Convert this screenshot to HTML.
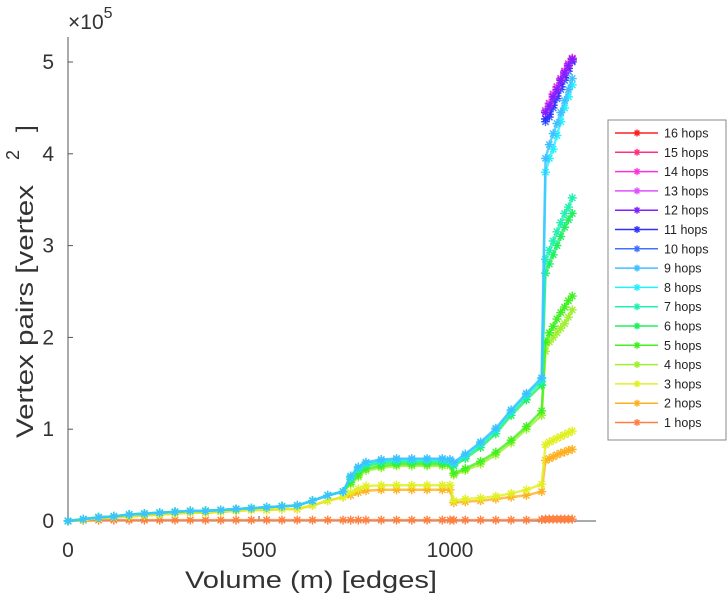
<!DOCTYPE html>
<html><head><meta charset="utf-8"><style>
body{margin:0;background:#fff;}
svg{font-family:"Liberation Sans",sans-serif;display:block;}
</style></head><body>
<svg id="chart" width="728" height="600" viewBox="0 0 728 600" xmlns="http://www.w3.org/2000/svg">
<g id="axes"></g>
<g id="series"></g>
<g id="legend"></g>
</svg>
<script>
const xs=[0,40,80,120,160,200,240,280,320,360,400,440,480,520,560,600,640,680,720,740,760,780,820,860,900,940,980,1000,1010,1040,1080,1120,1160,1200,1240,1250,1260,1270,1280,1290,1300,1310,1320];
const earlyHigh=[0,0.02,0.04,0.05,0.07,0.08,0.09,0.1,0.11,0.11,0.12,0.13,0.14,0.15,0.16,0.17,0.22,0.28,0.32];
const earlyLow=[0,0.01,0.03,0.04,0.05,0.06,0.07,0.08,0.09,0.09,0.1,0.11,0.12,0.12,0.13,0.13,0.17,0.22,0.26];
const pre=Array(35).fill(null);
const s1=[0,0.005,0.01,0.01,0.01,0.01,0.01,0.01,0.01,0.01,0.01,0.01,0.01,0.01,0.01,0.01,0.01,0.01,0.01,0.01,0.01,0.01,0.01,0.01,0.01,0.01,0.01,0.01,0.01,0.01,0.01,0.01,0.01,0.01,0.015,0.02,0.02,0.02,0.02,0.02,0.02,0.02,0.02];
const s2=earlyLow.concat([0.28,0.31,0.33,0.34,0.34,0.34,0.34,0.34,0.34,0.2,0.21,0.22,0.24,0.26,0.28,0.32,0.66,0.68,0.7,0.72,0.74,0.75,0.77,0.78]);
const s3=earlyLow.concat([0.31,0.35,0.38,0.39,0.39,0.39,0.39,0.39,0.39,0.22,0.24,0.25,0.27,0.3,0.34,0.4,0.83,0.86,0.88,0.9,0.92,0.94,0.96,0.98]);
const s4=earlyHigh.concat([0.4,0.48,0.55,0.58,0.6,0.6,0.6,0.6,0.6,0.5,0.55,0.62,0.72,0.85,1.0,1.15,1.85,1.95,2.0,2.05,2.1,2.15,2.22,2.3]);
const s5=earlyHigh.concat([0.42,0.5,0.57,0.6,0.62,0.62,0.62,0.62,0.62,0.52,0.57,0.65,0.75,0.88,1.03,1.2,1.95,2.05,2.12,2.2,2.27,2.33,2.4,2.45]);
const s6=earlyHigh.concat([0.45,0.55,0.6,0.63,0.64,0.64,0.64,0.64,0.63,0.6,0.68,0.8,0.95,1.15,1.32,1.48,2.7,2.8,2.9,3.0,3.1,3.2,3.28,3.35]);
const s7=earlyHigh.concat([0.47,0.57,0.62,0.65,0.66,0.66,0.66,0.66,0.65,0.62,0.7,0.83,0.98,1.18,1.36,1.52,2.85,2.95,3.05,3.15,3.25,3.35,3.42,3.52]);
const s8=earlyHigh.concat([0.48,0.58,0.63,0.66,0.67,0.67,0.67,0.67,0.66,0.63,0.72,0.85,1.0,1.2,1.38,1.55,3.8,3.95,4.05,4.2,4.35,4.5,4.62,4.75]);
const s9=earlyHigh.concat([0.49,0.59,0.64,0.67,0.68,0.68,0.68,0.68,0.67,0.64,0.73,0.86,1.01,1.21,1.39,1.56,3.95,4.1,4.22,4.33,4.45,4.58,4.7,4.82]);
const s10=pre.concat([4.35,4.4,4.5,4.6,4.7,4.8,4.9,5.0]);
const s11=pre.concat([4.38,4.43,4.53,4.63,4.73,4.83,4.93,5.01]);
const s12=pre.concat([4.45,4.52,4.62,4.7,4.8,4.88,4.96,5.03]);
const s13=pre.concat([4.47,4.54,4.64,4.72,4.81,4.89,4.97,5.03]);
const s14=pre.concat([4.47,4.55,4.65,4.73,4.82,4.9,4.98,5.04]);
const s15=pre.concat([4.47,4.55,4.65,4.73,4.82,4.9,4.98,5.04]);
const s16=pre.concat([4.47,4.55,4.65,4.73,4.82,4.9,4.98,5.04]);
const seriesVals=[s1,s2,s3,s4,s5,s6,s7,s8,s9,s10,s11,s12,s13,s14,s15,s16];
const seriesNames=["1 hops","2 hops","3 hops","4 hops","5 hops","6 hops","7 hops","8 hops","9 hops","10 hops","11 hops","12 hops","13 hops","14 hops","15 hops","16 hops"];
const colors=["#ff8040","#ffb020","#e0f020","#a0f030","#40f020","#20f060","#20f0b0","#20f0ff","#40c0ff","#4070ff","#3030ff","#8020ff","#e050ff","#ff30e0","#ff3080","#ff2020"];
const drawOrder=[0,1,2,3,4,5,6,7,8,9,10,15,14,13,12,11];
const xTicks=[0,500,1000];
const yTicks=[0,1,2,3,4,5];

const NS="http://www.w3.org/2000/svg";
const X0=68,X1=596,Y0=521,Y1=37;
const xMax=(X1-X0)/0.382,yMax=(Y0-Y1)/91.8;
function sx(v){return X0+v/xMax*(X1-X0);}
function sy(v){return Y0-v/yMax*(Y0-Y1);}
function mk(tag,attrs,parent){const e=document.createElementNS(NS,tag);for(const k in attrs)e.setAttribute(k,attrs[k]);parent.appendChild(e);return e;}

const axes=document.getElementById('axes');
let l=mk('line',{x1:X0,y1:Y1,x2:X0,y2:Y0,stroke:'#555','stroke-width':1},axes);


l=mk('line',{x1:X0,y1:Y0,x2:X1,y2:Y0,stroke:'#555','stroke-width':1},axes);


xTicks.forEach(t=>{
  const tk=mk('line',{x1:sx(t),y1:Y0,x2:sx(t),y2:Y0-5,stroke:'#555'},axes);
  
  
  const tx=mk('text',{x:sx(t),y:Y0+36,'font-size':21,'text-anchor':'middle',fill:'#333'},axes);
  tx.textContent=t;
  
  
});
yTicks.forEach(t=>{
  const tk=mk('line',{x1:X0,y1:sy(t),x2:X0+5,y2:sy(t),stroke:'#555'},axes);
  
  
  const tx=mk('text',{x:X0-14,y:sy(t)+7,'font-size':21,'text-anchor':'end',fill:'#333'},axes);
  tx.textContent=t;
  
  
});
let t=mk('text',{x:68,y:29,'font-size':21,fill:'#333'},axes);
t.innerHTML='×10<tspan font-size="16" dy="-11">5</tspan>';


t=mk('text',{x:185,y:588,'font-size':24,fill:'#333',textLength:252,lengthAdjust:'spacingAndGlyphs'},axes);
t.textContent='Volume (m) [edges]';


const yt=mk('g',{transform:'translate(33,438) rotate(-90)','font-size':24,fill:'#333'},axes);


t=mk('text',{x:0,y:0,textLength:253,lengthAdjust:'spacingAndGlyphs'},yt);
t.textContent='Vertex pairs [vertex';
t=mk('text',{x:278,y:-14,'font-size':18},yt);
t.textContent='2';
t=mk('text',{x:306,y:0},yt);
t.textContent=']';

const sg=document.getElementById('series');
function star(g,x,y,c,r){
  const d=`M${x-r},${y}h${2*r}M${x},${y-r}v${2*r}M${x-r*0.7},${y-r*0.7}l${1.4*r},${1.4*r}M${x-r*0.7},${y+r*0.7}l${1.4*r},${-1.4*r}`;
  mk('path',{d:d,stroke:c,'stroke-width':1.4,fill:'none'},g);
}
drawOrder.forEach(i=>{
  const vals=seriesVals[i];
  const g=mk('g',{},sg);
  
  
  let pts=[];
  vals.forEach((v,j)=>{if(v!==null)pts.push([sx(xs[j]),sy(v)]);});
  const pl=mk('polyline',{points:pts.map(p=>p.join(',')).join(' '),fill:'none',stroke:colors[i],'stroke-width':2.5,'stroke-opacity':0.8},g);
  
  
  pts.forEach(p=>star(g,p[0],p[1],colors[i],4.5));
});

const lg=document.getElementById('legend');
const box=mk('rect',{x:608,y:120,width:118,height:320,fill:'#fff',stroke:'#888'},lg);


for(let k=0;k<16;k++){
  const i=15-k, y=133+k*19.3;
  const g=mk('g',{},lg);
  
  
  mk('line',{x1:615,y1:y,x2:658,y2:y,stroke:colors[i],'stroke-width':1.5},g);
  star(g,637,y,colors[i],3.5);
  const tx=mk('text',{x:664,y:y+4.5,'font-size':12.5,fill:'#222'},g);
  tx.textContent=seriesNames[i];
}
</script>
</body></html>
